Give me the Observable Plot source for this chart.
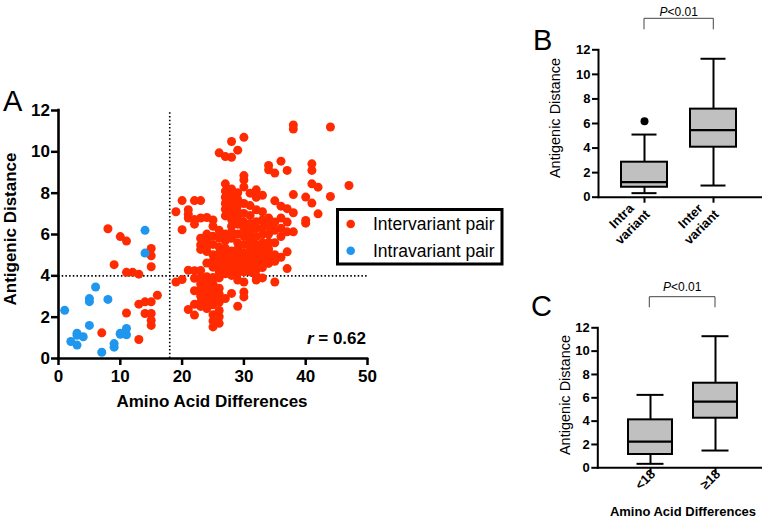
<!DOCTYPE html>
<html><head><meta charset="utf-8">
<script src="https://cdn.jsdelivr.net/npm/d3@7"></script>
<script src="https://cdn.jsdelivr.net/npm/@observablehq/plot@0.6"></script>
<style>
body{margin:0;background:#fff}
#wrap{position:relative;width:762px;height:519px;overflow:hidden;background:#fff}
#wrap svg{position:absolute;overflow:visible}
</style></head><body><div id="wrap"></div>
<script>
// ---------- Panel A data ----------
// Intervariant pairs (red): x = amino acid differences, y = antigenic distance
const interLeftX = [7,8,9,10,11,11,11,12,13,13,13,14,14,15,15,15,15,15,15,15,16];
const interLeftY = [1.24,6.28,4.54,5.9,5.68,4.17,2.2,4.17,4.08,2.63,0.92,2.74,2.18,5.32,4.97,4.44,2.74,2.18,1.85,1.6,3.06];
const interColX = [19,20,21,22,23,24,25,26,27,28,29,30,31,32,33,34,35,36,37,38,40,41,42,44,47];
const interColY = [
  [7.1,3.7],
  [7.64,6.23,3.82],
  [7.2,6.98,6.8,4.27,2.37],
  [7.64,6.72,6.5,4.25,3.88,3.28,2.62,2.1],
  [7.64,6.8,5.82,5.5,5.28,4.26,3.92,3.6,3.35,3.02,2.72,2.52],
  [6.82,6.02,5.7,5.42,5.18,4.62,3.96,3.75,3.52,3.3,3.12,2.88,2.62,2.42],
  [6.7,6.4,5.92,5.52,5.02,4.72,4.42,3.92,3.62,3.42,3.2,3.0,2.8,2.6,2.12,1.82,1.53],
  [9.95,6.2,5.82,5.4,5.1,4.8,4.52,4.2,3.9,3.4,3.12,2.72,2.32,2.02,1.7],
  [9.77,8.45,8.1,7.8,7.5,7.22,6.9,6.02,5.7,5.32,5.02,4.7,4.42,4.1,2.9],
  [10.5,9.74,8.2,7.92,7.6,7.3,7.02,6.72,6.4,6.12,5.82,5.2,4.92,4.62,4.32,4.02,3.15],
  [10.08,8.02,7.7,7.42,7.1,6.82,6.5,6.02,5.6,5.3,5.0,4.72,4.42,4.12,3.8,2.53],
  [10.7,8.85,8.64,8.3,7.5,7.02,6.6,6.3,5.92,5.52,5.12,4.82,4.5,4.2,3.7,3.22,2.98],
  [8.0,7.4,6.92,6.52,6.12,5.72,5.4,5.1,4.8,4.5,4.2],
  [8.16,7.8,7.2,6.62,6.3,5.9,5.5,5.2,4.9,4.6,4.3,4.0,3.8],
  [7.9,7.1,6.7,6.32,6.0,5.6,5.3,5.0,4.7,4.4,3.9],
  [9.34,9.13,6.8,6.42,6.02,5.62,5.3,4.92,4.6],
  [8.97,7.63,6.6,6.2,5.6,5.02,4.7,3.7],
  [9.55,7.37,6.8,6.3,5.9,4.9],
  [9.1,7.25,6.6,6.13,5.16,4.35],
  [11.3,11.1,7.93,7.05,6.13],
  [7.81,6.68,6.55],
  [9.42,9.1,8.45,7.52],
  [8.29,7.0],
  [11.2,7.84],
  [8.37]
];
// Intravariant pairs (blue)
const intraX = [1,2,3,3,3,4,5,5,5,6,7,8,9,9,10,10,11,11,14,14];
const intraY = [2.33,0.82,1.22,1.12,0.65,1.05,1.6,2.9,2.75,3.46,0.3,2.86,0.72,0.55,1.17,1.22,1.45,1.15,6.2,5.1];

const xTicksA = [0,10,20,30,40,50];
const yTicks = [0,2,4,6,8,10,12];
const cutX = 18, cutY = 4;
const rValue = "0.62";
const legendLabels = ["Intervariant pair","Intravariant pair"];

// ---------- Panel B data (box summaries) ----------
const bCats = ["Intra\nvariant","Inter\nvariant"];
const bMin = [0.33,0.95], bQ1 = [0.81,4.07], bMed = [1.22,5.46], bQ3 = [2.85,7.17], bMax = [5.1,11.27];
const bOutCat = ["Intra\nvariant"], bOutY = [6.19];

// ---------- Panel C data ----------
const cCats = ["<18","≥18"];
const cMin = [0.34,1.48], cQ1 = [1.14,4.25], cMed = [2.25,5.68], cQ3 = [4.11,7.25], cMax = [6.25,11.28];

const pText = "P<0.01";

// ---------- build ----------
const FONT = '"Liberation Sans", Arial, Helvetica, sans-serif';
const red = "#ff2a00", blue = "#1f97ee", boxFill = "#c0c0c0";
const wrap = d3.select("#wrap");

const inter = [];
interLeftX.forEach((x,i) => inter.push({x, y: interLeftY[i]}));
interColX.forEach((x,i) => interColY[i].forEach(y => inter.push({x, y})));
const intra = intraX.map((x,i) => ({x, y: intraY[i]}));

const A = Plot.plot({
  width: 380, height: 430,
  marginLeft: 58, marginRight: 13, marginTop: 110, marginBottom: 72,
  style: {fontFamily: FONT, fontSize: "17px", fontWeight: "bold", background: "transparent", overflow: "visible"},
  x: {domain: [0,50]},
  y: {domain: [0,12]},
  marks: [
    Plot.ruleX([cutX], {y1: 0, y2: 12, strokeDasharray: "1.5,2.2", strokeWidth: 1.6}),
    Plot.ruleY([cutY], {x1: 0, x2: 50, strokeDasharray: "1.5,2.2", strokeWidth: 1.6}),
    Plot.dot(inter, {x: "x", y: "y", r: 4.5, fill: red}),
    Plot.dot(intra, {x: "x", y: "y", r: 4.5, fill: blue}),
    Plot.axisX({ticks: xTicksA, tickSize: 7, tickPadding: 4, strokeWidth: 2.5, label: null}),
    Plot.axisY({ticks: yTicks, tickSize: 7, tickPadding: 1.5, strokeWidth: 2.5, label: null}),
    Plot.ruleX([0], {strokeWidth: 2.6, strokeLinecap: "square"}),
    Plot.ruleY([0], {strokeWidth: 2.6, strokeLinecap: "square"})
  ]
});
d3.select(A).style("left","0px").style("top","0px");
wrap.node().appendChild(A);

function boxPanel(cats, mn, q1, md, q3, mx, outCat, outY, opts) {
  const data = cats.map((c,i) => ({c, lo: mn[i], q1: q1[i], med: md[i], q3: q3[i], hi: mx[i]}));
  const outs = outCat.map((c,i) => ({c, y: outY[i]}));
  return Plot.plot({
    width: 242, height: opts.height,
    marginLeft: opts.ml, marginRight: 0, marginTop: opts.mt, marginBottom: opts.mb,
    style: {fontFamily: FONT, fontSize: "13px", fontWeight: "bold", background: "transparent", overflow: "visible"},
    x: {type: "band", domain: cats, paddingInner: opts.pi, paddingOuter: opts.po, align: opts.align},
    y: {domain: [0,12]},
    marks: [
      Plot.ruleX(data, {x: "c", y1: "lo", y2: "q1", strokeWidth: 2}),
      Plot.ruleX(data, {x: "c", y1: "q3", y2: "hi", strokeWidth: 2}),
      Plot.tickY(data, {x: "c", y: "lo", inset: opts.cap, strokeWidth: 2}),
      Plot.tickY(data, {x: "c", y: "hi", inset: opts.cap, strokeWidth: 2}),
      Plot.barY(data, {x: "c", y1: "q1", y2: "q3", fill: boxFill, stroke: "black", strokeWidth: 2}),
      Plot.tickY(data, {x: "c", y: "med", strokeWidth: 2.2}),
      Plot.dot(outs, {x: "c", y: "y", r: 4, fill: "black"}),
      Plot.axisY({ticks: yTicks, tickSize: 6, tickPadding: 2, strokeWidth: 2, label: null}),
      Plot.axisX({tickSize: 6, strokeWidth: 2, tickFormat: () => "", label: null}),
      Plot.text(data, {x: "c", text: "c", frameAnchor: "bottom", rotate: -45,
        textAnchor: opts.ta, lineAnchor: "middle", lineHeight: 1.2,
        dx: opts.ldx, dy: opts.ldy, fontSize: 13, fontWeight: "bold"}),
      Plot.frame({anchor: "left", strokeWidth: 2}),
      Plot.frame({anchor: "bottom", strokeWidth: 2})
    ]
  });
}

const B = boxPanel(bCats, bMin, bQ1, bMed, bQ3, bMax, bOutCat, bOutY,
  {height: 250, ml: 78, mt: 49.3, mb: 53.3, pi: 0.336, po: 0.351, align: 0.472, cap: 10.5,
   ta: "middle", ldx: -18, ldy: 24});
d3.select(B).style("left","520px").style("top","0px");
wrap.node().appendChild(B);

const C = boxPanel(cCats, cMin, cQ1, cMed, cQ3, cMax, [], [],
  {height: 269, ml: 77.3, mt: 77.3, mb: 51.7, pi: 0.33, po: 0.4185, align: 0.545, cap: 8.5,
   ta: "end", ldx: 2, ldy: 3.5});
d3.select(C).style("left","520px").style("top","250px");
wrap.node().appendChild(C);

// ---------- annotation overlay ----------
const ov = wrap.append("svg").attr("width", 762).attr("height", 519)
  .style("left","0px").style("top","0px").style("pointer-events","none")
  .style("font-family", FONT);

function letter(t, x, y) {
  ov.append("text").attr("x", x).attr("y", y).attr("font-size", 29).text(t);
}
letter("A", 3, 111); letter("B", 533, 50); letter("C", 531, 316);

// axis titles
ov.append("text").attr("transform", "translate(16,229) rotate(-90)").attr("text-anchor","middle")
  .attr("font-size", 17).attr("font-weight","bold").text("Antigenic Distance");
ov.append("text").attr("x", 212).attr("y", 407).attr("text-anchor","middle")
  .attr("font-size", 17).attr("font-weight","bold").text("Amino Acid Differences");
ov.append("text").attr("transform", "translate(560,118) rotate(-90)").attr("text-anchor","middle")
  .attr("font-size", 14.5).text("Antigenic Distance");
ov.append("text").attr("transform", "translate(570,395) rotate(-90)").attr("text-anchor","middle")
  .attr("font-size", 14.5).text("Antigenic Distance");
ov.append("text").attr("x", 683).attr("y", 516).attr("text-anchor","middle")
  .attr("font-size", 13).attr("font-weight","bold").text("Amino Acid Differences");

// r value
const rt = ov.append("text").attr("x", 366).attr("y", 343.5).attr("text-anchor","end")
  .attr("font-size", 17).attr("font-weight","bold");
rt.append("tspan").attr("font-style","italic").text("r");
rt.append("tspan").text(" = " + rValue);

// legend
ov.append("rect").attr("x", 337.5).attr("y", 209.5).attr("width", 164.5).attr("height", 54.5)
  .attr("fill","white").attr("stroke","black").attr("stroke-width", 3);
[[red, 224], [blue, 250.7]].forEach(([col, cy], i) => {
  ov.append("circle").attr("cx", 350.7).attr("cy", cy).attr("r", 4.3).attr("fill", col);
  ov.append("text").attr("x", 373).attr("y", cy + 6.2).attr("font-size", 17.5).text(legendLabels[i]);
});

// significance brackets
function bracket(x1, x2, yTop, yBot, ty) {
  ov.append("path").attr("d", `M${x1},${yBot}V${yTop}H${x2}V${yBot}`)
    .attr("fill","none").attr("stroke","#444").attr("stroke-width", 1);
  const t = ov.append("text").attr("x", (x1 + x2) / 2).attr("y", ty).attr("text-anchor","middle").attr("font-size", 12);
  t.append("tspan").attr("font-style","italic").text(pText[0]);
  t.append("tspan").text(pText.slice(1));
}
bracket(644, 713.3, 18.3, 29.3, 15.5);
bracket(649.3, 715, 296.7, 307.3, 291);
</script></body></html>
